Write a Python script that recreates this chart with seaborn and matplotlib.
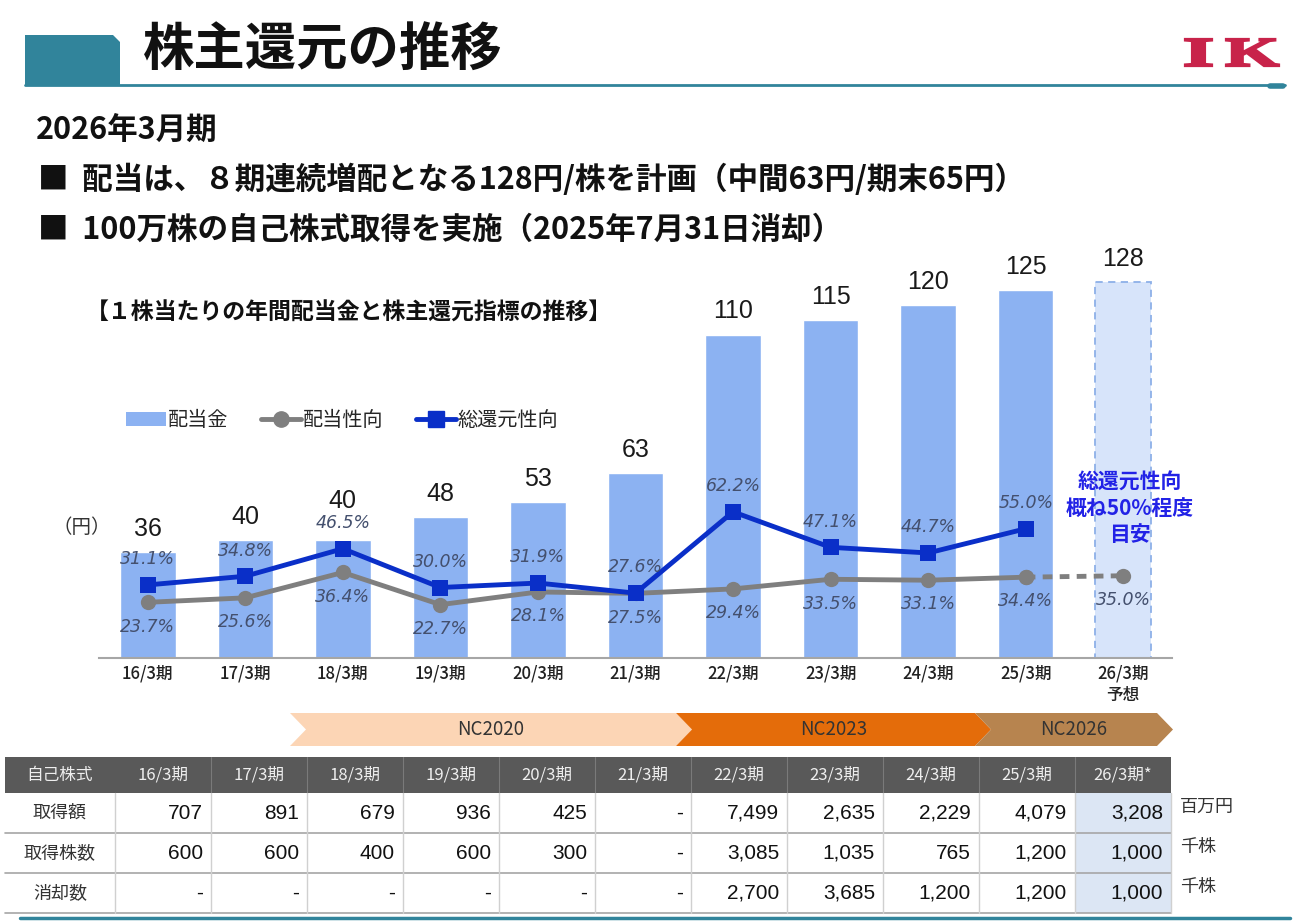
import numpy as np
import pandas as pd
import matplotlib
matplotlib.use("Agg")
import matplotlib.pyplot as plt
import seaborn as sns
from matplotlib.patches import Polygon, Rectangle, Patch, PathPatch
from matplotlib.lines import Line2D
from matplotlib.textpath import TextPath
from matplotlib.font_manager import FontProperties
from matplotlib.transforms import Affine2D

# ------------------------------------------------------------------
# Data
# ------------------------------------------------------------------
periods = ["16/3期", "17/3期", "18/3期", "19/3期", "20/3期", "21/3期",
           "22/3期", "23/3期", "24/3期", "25/3期", "26/3期\n予想"]
dividends = [36, 40, 40, 48, 53, 63, 110, 115, 120, 125, 128]
payout_ratio = [23.7, 25.6, 36.4, 22.7, 28.1, 27.5, 29.4, 33.5, 33.1, 34.4, 35.0]
total_return_ratio = [31.1, 34.8, 46.5, 30.0, 31.9, 27.6, 62.2, 47.1, 44.7, 55.0]

plans = ["NC2020", "NC2023", "NC2026"]

table_cols = ["16/3期", "17/3期", "18/3期", "19/3期", "20/3期", "21/3期",
              "22/3期", "23/3期", "24/3期", "25/3期", "26/3期*"]
table_rows = ["取得額", "取得株数", "消却数"]
acq_amount = ["707", "891", "679", "936", "425", "-", "7,499", "2,635", "2,229", "4,079", "3,208"]
acq_shares = ["600", "600", "400", "600", "300", "-", "3,085", "1,035", "765", "1,200", "1,000"]
retired = ["-", "-", "-", "-", "-", "-", "2,700", "3,685", "1,200", "1,200", "1,000"]
row_units = ["百万円", "千株", "千株"]

# colours
BAR = "#8CB2F2"
BAR_FC = "#D7E4FA"
BLUE = "#0A2FC8"
GREY = "#7F7F7F"
TEAL = "#31849B"
LBL = "#44506E"
LOGO = "#C8234A"

sns.set_theme(style="white")
plt.rcParams["font.family"] = ["Noto Sans CJK JP", "DejaVu Sans"]

fig = plt.figure(figsize=(13, 9.21), dpi=100)

# pixel overlay for the slide decoration
deco = fig.add_axes([0, 0, 1, 1], zorder=0)
deco.set_xlim(0, 1300)
deco.set_ylim(921, 0)
deco.axis("off")


def boxed_letter(ch, x0, x1, y0, y1):
    """Draw a glyph stretched to fill a pixel box (for the wide logo letters)."""
    tp = TextPath((0, 0), ch, size=40,
                  prop=FontProperties(family="Liberation Serif", weight="bold"))
    bb = tp.get_extents()
    tr = (Affine2D().translate(-bb.x0, -bb.y1)
          .scale((x1 - x0) / bb.width, -(y1 - y0) / bb.height)
          .translate(x0, y0))
    deco.add_patch(PathPatch(tr.transform_path(tp), fc=LOGO, ec=LOGO, lw=1.6))


# title block
deco.add_patch(Polygon([(25, 35), (113, 35), (120, 42), (120, 85), (25, 85)],
                       closed=True, fc=TEAL, ec="none"))
deco.plot([25, 1285], [85, 85], color=TEAL, lw=2)
deco.plot([1270, 1283], [86, 86], color=TEAL, lw=4)
deco.text(143, 50, "株主還元の推移", fontsize=37, fontweight="bold",
          va="center", ha="left", color="#111111")
boxed_letter("I", 1185, 1212, 39, 66)
boxed_letter("K", 1226, 1279, 39, 66)

deco.text(36, 130, "2026年3月期", fontsize=22, fontweight="bold", va="center",
          color="#111111")
deco.text(38, 180, "■  配当は、８期連続増配となる128円/株を計画（中間63円/期末65円）",
          fontsize=22, fontweight="bold", va="center", color="#111111")
deco.text(38, 230, "■  100万株の自己株式取得を実施（2025年7月31日消却）",
          fontsize=22, fontweight="bold", va="center", color="#111111")

deco.text(86, 313, "【１株当たりの年間配当金と株主還元指標の推移】", fontsize=16.5,
          fontweight="bold", va="center", color="#111111")
deco.text(52, 527, "（円）", fontsize=14, va="center", color="#333333")
fig.text(1130 / 1300, 1 - 508 / 921, "総還元性向\n概ね50%程度\n目安", fontsize=15,
         fontweight="bold", color="#2222E6", ha="center", va="center",
         linespacing=1.3, zorder=10)

# mid-term plan chevrons
arrow_spans = [(290, 676), (676, 975), (975, 1157)]
arrow_cols = ["#FCD5B5", "#E46C0A", "#B7844F"]
for name, (x0, x1), col in zip(plans, arrow_spans, arrow_cols):
    pts = [(x0, 713), (x1, 713), (x1 + 16, 729.5), (x1, 746), (x0, 746), (x0 + 16, 729.5)]
    deco.add_patch(Polygon(pts, closed=True, fc=col, ec="none"))
    deco.text((x0 + x1) / 2 + 8, 729.5, name, fontsize=13.5, ha="center", va="center",
              color="#333333")

# ------------------------------------------------------------------
# Chart
# ------------------------------------------------------------------
ax = fig.add_axes([99 / 1300, 263 / 921, 1073 / 1300, 408 / 921], zorder=2)
ax.patch.set_alpha(0)

df = pd.DataFrame({"period": periods, "dividend": dividends})
sns.barplot(data=df, x="period", y="dividend", color=BAR, width=0.57,
            saturation=1, ax=ax)
last = ax.patches[-1]
last.set_facecolor(BAR_FC)
last.set_edgecolor("#8DB0E8")
last.set_linestyle((0, (4, 3)))
last.set_linewidth(1.3)

for i, v in enumerate(dividends):
    lift = 20 if i == 2 else 8
    ax.annotate(str(v), (i, v), xytext=(0, lift), textcoords="offset points",
                ha="center", va="bottom", fontsize=18, color="#1a1a1a",
                family=["Liberation Sans", "DejaVu Sans"])

ax.set_ylim(0, 408 / 2.94)
ax.set_xlim(-0.5, 10.5)
ax.set_xlabel("")
ax.set_ylabel("")
ax.set_yticks([])
ax.tick_params(axis="x", length=0, labelsize=12, colors="#222222", pad=5)
for t in ax.get_xticklabels():
    t.set_fontweight("medium")
for s in ["top", "right", "left"]:
    ax.spines[s].set_visible(False)
ax.spines["bottom"].set_color("#A6A6A6")
ax.spines["bottom"].set_linewidth(1.5)

ax2 = ax.twinx()
ax2.set_ylim(0, 408 / 2.35)
ax2.axis("off")

n_hist = len(total_return_ratio)
pr = pd.DataFrame({"x": np.arange(len(payout_ratio)), "v": payout_ratio})
tr = pd.DataFrame({"x": np.arange(n_hist), "v": total_return_ratio})

sns.lineplot(data=pr.iloc[n_hist - 1:], x="x", y="v", color=GREY, lw=3.5,
             linestyle=(0, (2, 1.5)), marker="o", markersize=11, markeredgewidth=0,
             ax=ax2)
sns.lineplot(data=pr.iloc[:n_hist], x="x", y="v", color=GREY, lw=3.5,
             marker="o", markersize=11, markeredgewidth=0, ax=ax2)
sns.lineplot(data=tr, x="x", y="v", color=BLUE, lw=3.5, marker="s",
             markersize=12, markeredgewidth=0, ax=ax2)
ax2.set_xlim(-0.5, 10.5)

for i, v in enumerate(payout_ratio):
    ax2.annotate(f"{v:.1f}%", (i, v), xytext=(0, -11), textcoords="offset points",
                 ha="center", va="top", fontsize=12.5, style="italic", color=LBL,
                 family=["DejaVu Sans"])
for i, v in enumerate(total_return_ratio):
    ax2.annotate(f"{v:.1f}%", (i, v), xytext=(0, 12), textcoords="offset points",
                 ha="center", va="bottom", fontsize=12.5, style="italic", color=LBL,
                 family=["DejaVu Sans"])

handles = [Patch(fc=BAR, ec="none"),
           Line2D([], [], color=GREY, lw=3.5, marker="o", markersize=11),
           Line2D([], [], color=BLUE, lw=3.5, marker="s", markersize=11)]
ax.legend(handles, ["配当金", "配当性向", "総還元性向"], loc="center left",
          bbox_to_anchor=(0.008, 0.583), ncol=3, frameon=False, fontsize=14.5,
          handlelength=2.0, handletextpad=0.1, columnspacing=1.6)

# ------------------------------------------------------------------
# Treasury stock table
# ------------------------------------------------------------------
col_edges = [5] + [115 + 96 * i for i in range(12)]
row_edges = [757, 793, 833, 873, 913]
deco.add_patch(Rectangle((5, 757), 1166, 36, fc="#595959", ec="none"))
deco.add_patch(Rectangle((col_edges[-2], 793), 96, 120, fc="#DCE6F4", ec="none"))
deco.text(60, 775, "自己株式", fontsize=12, color="#EEEEEE", ha="center", va="center")
for j, c in enumerate(table_cols):
    deco.text((col_edges[j + 1] + col_edges[j + 2]) / 2, 775, c, fontsize=12,
              color="#EEEEEE", ha="center", va="center")
    if j > 0:
        deco.plot([col_edges[j + 1]] * 2, [757, 793], color="#7a7a7a", lw=0.8)
for r, (name, vals, unit) in enumerate(zip(table_rows, [acq_amount, acq_shares, retired], row_units)):
    yc = (row_edges[r + 1] + row_edges[r + 2]) / 2
    deco.text(60, yc, name, fontsize=13, color="#333333", ha="center", va="center")
    for j, v in enumerate(vals):
        deco.text(col_edges[j + 2] - 8, yc, v, fontsize=15, color="#111111",
                  ha="right", va="center", family=["Liberation Sans", "DejaVu Sans"])
    deco.text(1180, yc - 6, unit, fontsize=13, color="#333333", ha="left", va="center")
    deco.plot([5, 1171], [row_edges[r + 2]] * 2, color="#A6A6A6", lw=1.2)
for x in col_edges[1:]:
    deco.plot([x, x], [793, 913], color="#D0D0D0", lw=1)
deco.plot([20, 1290], [918, 918], color=TEAL, lw=2.5)

fig.savefig("out.png", dpi=100)
